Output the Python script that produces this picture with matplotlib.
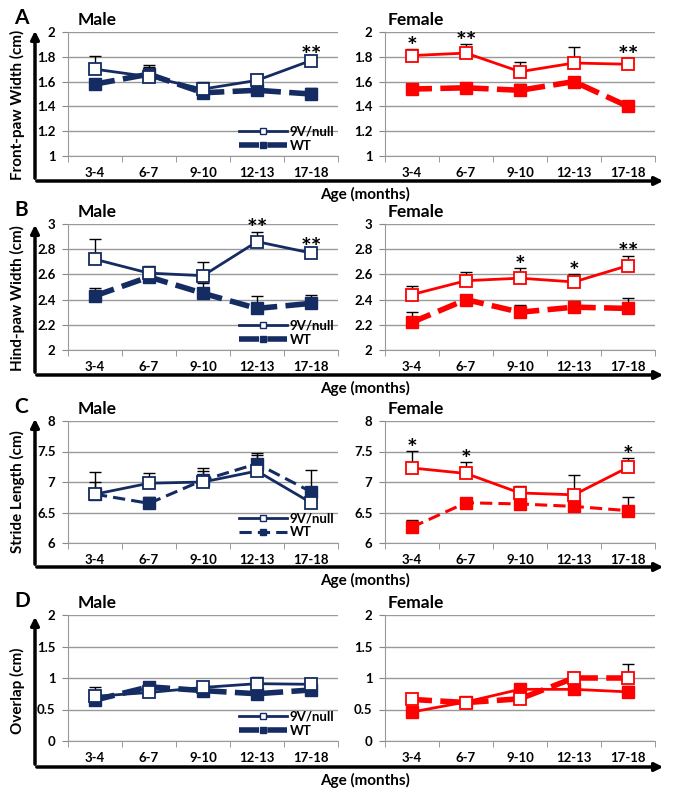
import numpy as np
import matplotlib
matplotlib.use('Agg')
import matplotlib.pyplot as plt
from matplotlib.lines import Line2D

plt.rcParams['font.family'] = ['Lato', 'DejaVu Sans']
plt.rcParams['font.weight'] = 'bold'

# Datos
ages = ['3-4', '6-7', '9-10', '12-13', '17-18']

# A: front-paw width
front_m_9v = [1.70, 1.64, 1.54, 1.61, 1.77]
front_m_9v_err = [0.11, 0.09, 0.06, 0.05, 0.02]
front_m_wt = [1.58, 1.66, 1.51, 1.53, 1.50]
front_m_wt_err = [0.04, 0.06, 0.08, 0.03, 0.05]
front_f_9v = [1.81, 1.83, 1.68, 1.75, 1.74]
front_f_9v_err = [0.05, 0.07, 0.08, 0.13, 0.05]
front_f_wt = [1.54, 1.55, 1.53, 1.60, 1.40]
front_f_wt_err = [0.04, 0.04, 0.05, 0.04, 0.04]

# B: hind-paw width
hind_m_9v = [2.72, 2.61, 2.59, 2.86, 2.77]
hind_m_9v_err = [0.16, 0.06, 0.11, 0.08, 0.02]
hind_m_wt = [2.43, 2.58, 2.45, 2.33, 2.37]
hind_m_wt_err = [0.06, 0.05, 0.08, 0.10, 0.07]
hind_f_9v = [2.44, 2.55, 2.57, 2.54, 2.67]
hind_f_9v_err = [0.07, 0.07, 0.08, 0.06, 0.08]
hind_f_wt = [2.22, 2.40, 2.30, 2.34, 2.33]
hind_f_wt_err = [0.08, 0.04, 0.06, 0.05, 0.08]

# C: stride length
stride_m_9v = [6.80, 6.98, 7.00, 7.18, 6.66]
stride_m_9v_err = [0.36, 0.16, 0.23, 0.26, 0.05]
stride_m_wt = [6.80, 6.65, 7.03, 7.30, 6.84]
stride_m_wt_err = [0.20, 0.10, 0.15, 0.18, 0.35]
stride_f_9v = [7.23, 7.14, 6.82, 6.79, 7.24]
stride_f_9v_err = [0.28, 0.18, 0.11, 0.32, 0.15]
stride_f_wt = [6.26, 6.66, 6.64, 6.60, 6.53]
stride_f_wt_err = [0.11, 0.05, 0.08, 0.12, 0.22]

# D: overlap
overlap_m_9v = [0.71, 0.77, 0.85, 0.91, 0.90]
overlap_m_9v_err = [0.14, 0.05, 0.03, 0.11, 0.03]
overlap_m_wt = [0.65, 0.86, 0.80, 0.75, 0.81]
overlap_m_wt_err = [0.05, 0.08, 0.04, 0.07, 0.04]
overlap_f_9v = [0.66, 0.61, 0.67, 1.00, 1.00]
overlap_f_9v_err = [0.03, 0.07, 0.03, 0.09, 0.23]
overlap_f_wt = [0.46, 0.62, 0.82, 0.82, 0.78]
overlap_f_wt_err = [0.03, 0.04, 0.04, 0.04, 0.09]

# significancia
stars_front_m = ['', '', '', '', '**']
stars_front_f = ['*', '**', '', '', '**']
stars_hind_m = ['', '', '', '**', '**']
stars_hind_f = ['', '', '*', '*', '**']
stars_stride_f = ['*', '*', '', '', '*']
none = ['', '', '', '', '']

navy = '#142c61'
red = '#ff0000'
W, H = 680, 800


def box(x0, y0, x1, y1):
    # pixeles (desde arriba) -> fraccion de figura
    return [x0 / W, 1 - y1 / H, (x1 - x0) / W, (y1 - y0) / H]


def panel(ax, ylim, step, s9v, e9v, swt, ewt, color, stars, wt_lw, swap=False, legend=False):
    x = np.arange(len(ages))
    ls9, lw9 = '-', 2.0
    lswt = (0, (3.6, 1.5)) if wt_lw > 3 else (0, (4, 2))
    lwwt = wt_lw
    if swap:
        ls9, lw9, lswt, lwwt = lswt, wt_lw, '-', 2.0
    ax.errorbar(x, swt, yerr=[np.zeros(5), ewt], fmt='none', ecolor='black',
                elinewidth=1, capsize=4, capthick=1, zorder=2)
    ax.errorbar(x, s9v, yerr=[np.zeros(5), e9v], fmt='none', ecolor='black',
                elinewidth=1, capsize=4, capthick=1, zorder=2)
    ax.plot(x, swt, color=color, ls=lswt, lw=lwwt, marker='s', ms=8,
            mfc=color, mec=color, zorder=3)
    ax.plot(x, s9v, color=color, ls=ls9, lw=lw9, marker='s', ms=8,
            mfc='white', mec=color, mew=1.3, zorder=4)
    for i, s in enumerate(stars):
        if s:
            top = max(s9v[i] + e9v[i], swt[i] + ewt[i])
            ax.annotate(s, (x[i], top), xytext=(0, -7), textcoords='offset points',
                        ha='center', va='bottom', fontsize=18, fontweight='bold')
    ax.set_xlim(-0.5, 4.5)
    ax.set_ylim(*ylim)
    ax.set_yticks(np.arange(ylim[0], ylim[1] + step / 2, step))
    ax.yaxis.set_major_formatter(plt.FuncFormatter(lambda v, p: f'{v:g}'))
    ax.set_xticks(x)
    ax.set_xticklabels(ages)
    ax.set_xticks(np.arange(-0.5, 5, 1), minor=True)
    ax.tick_params(axis='x', which='major', length=0, pad=8, labelsize=9.5)
    ax.tick_params(axis='x', which='minor', length=4, color='#888888')
    ax.tick_params(axis='y', length=4, color='#888888', pad=5, labelsize=9.5)
    ax.grid(axis='y', color='#999999', lw=1)
    ax.set_axisbelow(True)
    for sp in ['top', 'right']:
        ax.spines[sp].set_visible(False)
    for sp in ['left', 'bottom']:
        ax.spines[sp].set_color('#999999')
    if legend:
        h = [Line2D([], [], color=color, ls='-', lw=2, marker='s', ms=5, mfc='white', mec=color),
             Line2D([], [], color=color, ls=lswt, lw=lwwt, marker='s', ms=5, mfc=color, mec=color)]
        ax.legend(h, ['9V/null', 'WT'], loc='lower right', bbox_to_anchor=(1.03, -0.06),
                  frameon=False, handlelength=3.6, handletextpad=0.2, labelspacing=0.15,
                  prop={'size': 9.5, 'weight': 'bold'})


fig = plt.figure(figsize=(6.8, 8), dpi=100)

rows = [
    ('A', 'Front-paw Width (cm)', (32, 156), 181, 28, (1, 2), 0.2,
     (front_m_9v, front_m_9v_err, front_m_wt, front_m_wt_err, stars_front_m),
     (front_f_9v, front_f_9v_err, front_f_wt, front_f_wt_err, stars_front_f), 4.0, False),
    ('B', 'Hind-paw Width (cm)', (224, 350), 375, 222, (2, 3), 0.2,
     (hind_m_9v, hind_m_9v_err, hind_m_wt, hind_m_wt_err, stars_hind_m),
     (hind_f_9v, hind_f_9v_err, hind_f_wt, hind_f_wt_err, stars_hind_f), 4.0, False),
    ('C', 'Stride Length (cm)', (421, 543), 567, 416, (6, 8), 0.5,
     (stride_m_9v, stride_m_9v_err, stride_m_wt, stride_m_wt_err, none),
     (stride_f_9v, stride_f_9v_err, stride_f_wt, stride_f_wt_err, stars_stride_f), 2.2, False),
    ('D', 'Overlap (cm)', (615, 741), 767, 614, (0, 2), 0.5,
     (overlap_m_9v, overlap_m_9v_err, overlap_m_wt, overlap_m_wt_err, none),
     (overlap_f_9v, overlap_f_9v_err, overlap_f_wt, overlap_f_wt_err, none), 4.0, True),
]

for letter, ylabel, (y0, y1), yarrow, ytop, ylim, step, male, female, wtlw, swapf in rows:
    axm = fig.add_axes(box(68, y0, 338, y1))
    axf = fig.add_axes(box(385, y0, 655, y1))
    panel(axm, ylim, step, *male[:4], navy, male[4], wtlw, legend=True)
    panel(axf, ylim, step, *female[:4], red, female[4], wtlw, swap=swapf)
    # flechas de los ejes
    fig.patches.append(matplotlib.patches.FancyArrowPatch(
        (35 / W, 1 - yarrow / H), (35 / W, 1 - ytop / H), transform=fig.transFigure,
        arrowstyle='-|>', mutation_scale=12, lw=2.5, color='black'))
    fig.patches.append(matplotlib.patches.FancyArrowPatch(
        (34 / W, 1 - yarrow / H), (666 / W, 1 - yarrow / H), transform=fig.transFigure,
        arrowstyle='-|>', mutation_scale=12, lw=2.5, color='black'))
    fig.text(14 / W, 1 - (y0 - 14) / H, letter, fontsize=15, fontweight='bold', va='center')
    fig.text(78 / W, 1 - (y0 - 12) / H, 'Male', fontsize=12.5, fontweight='bold', va='center')
    fig.text(388 / W, 1 - (y0 - 12) / H, 'Female', fontsize=12.5, fontweight='bold', va='center')
    fig.text(17 / W, 1 - ((ytop + yarrow) / 2) / H, ylabel, rotation=90, fontsize=11,
             fontweight='bold', ha='center', va='center')
    fig.text(365 / W, 1 - (yarrow + 13) / H, 'Age (months)', fontsize=11,
             fontweight='bold', ha='center', va='center')

fig.savefig('out.png', dpi=100)
